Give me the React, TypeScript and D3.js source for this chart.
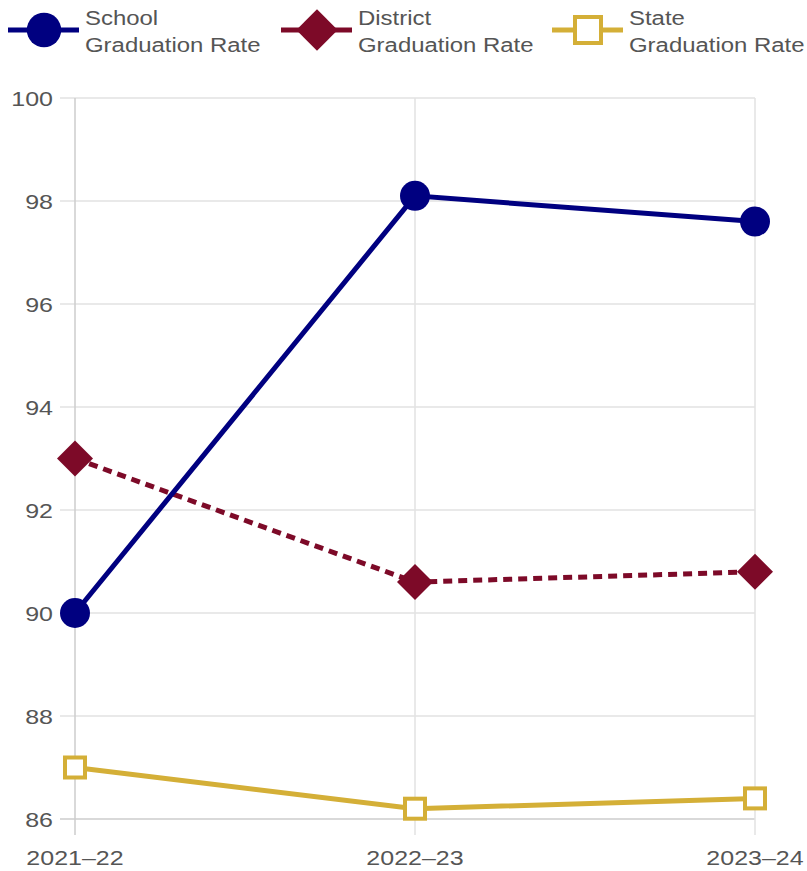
import React, { useRef, useEffect } from 'react';
import * as d3 from 'd3';

const years = ['2021–22', '2022–23', '2023–24'];
const schoolRate = [90, 98.1, 97.6];
const districtRate = [93, 90.6, 90.8];
const stateRate = [87, 86.2, 86.4];
const yTicks = [86, 88, 90, 92, 94, 96, 98, 100];

const W = 807;
const H = 871;
// the reference text is a bit wider than it is tall
const SX = 1.19;
const LEG_SX = 1.14;

const App = () => {
  const svgRef = useRef<SVGSVGElement>(null);

  useEffect(() => {
    const svg = d3.select(svgRef.current);
    svg.selectAll('*').remove();
    const font = '"Liberation Sans", Arial, sans-serif';

    // Set up scales
    const x = d3.scalePoint<string>().domain(years).range([75, 755]);
    const y = d3.scaleLinear().domain([86, 100]).range([819, 98]);

    // Grid
    const grid = svg.append('g');
    grid.selectAll('.hgrid')
      .data(yTicks)
      .enter()
      .append('line')
      .attr('x1', 60)
      .attr('x2', 755)
      .attr('y1', d => y(d))
      .attr('y2', d => y(d))
      .attr('stroke', d => (d === 86 ? '#ccc' : '#e2e2e2'))
      .attr('stroke-width', 1.5);

    grid.selectAll('.vgrid')
      .data(years)
      .enter()
      .append('line')
      .attr('x1', d => x(d)!)
      .attr('x2', d => x(d)!)
      .attr('y1', y(100))
      .attr('y2', 835)
      .attr('stroke', (d, i) => (i === 0 ? '#ccc' : '#e2e2e2'))
      .attr('stroke-width', 1.5);

    // Axis labels
    svg.selectAll('.ylab')
      .data(yTicks)
      .enter()
      .append('text')
      .attr('transform', d => `translate(53,${y(d)}) scale(${SX},1)`)
      .attr('dy', '0.36em')
      .attr('text-anchor', 'end')
      .attr('font-family', font)
      .attr('font-size', 21)
      .attr('fill', '#555')
      .text(d => d);

    svg.selectAll('.xlab')
      .data(years)
      .enter()
      .append('text')
      .attr('transform', d => `translate(${x(d)},865) scale(${SX},1)`)
      .attr('text-anchor', 'middle')
      .attr('font-family', font)
      .attr('font-size', 21)
      .attr('fill', '#555')
      .text(d => d);

    const series = [
      { name: 'School', values: schoolRate, color: '#000080', dash: null, marker: 'circle' },
      { name: 'District', values: districtRate, color: '#7d0a28', dash: '9,6', marker: 'diamond' },
      { name: 'State', values: stateRate, color: '#d4af37', dash: null, marker: 'square' },
    ];

    const drawMarker = (g: any, kind: string, cx: number, cy: number, color: string, scale = 1) => {
      if (kind === 'circle') {
        g.append('circle').attr('cx', cx).attr('cy', cy).attr('r', 15 * scale).attr('fill', color);
      } else if (kind === 'diamond') {
        const s = 18 * scale;
        g.append('path')
          .attr('d', `M${cx},${cy - s}L${cx + s},${cy}L${cx},${cy + s}L${cx - s},${cy}Z`)
          .attr('fill', color);
      } else {
        const s = 10 * scale;
        g.append('rect')
          .attr('x', cx - s).attr('y', cy - s)
          .attr('width', 2 * s).attr('height', 2 * s)
          .attr('fill', '#fff')
          .attr('stroke', color)
          .attr('stroke-width', 4);
      }
    };

    const line = d3.line<number>()
      .x((d, i) => x(years[i])!)
      .y(d => y(d));

    // draw state first, then district, then school
    [series[2], series[1], series[0]].forEach(s => {
      const g = svg.append('g');
      g.append('path')
        .datum(s.values)
        .attr('d', line)
        .attr('fill', 'none')
        .attr('stroke', s.color)
        .attr('stroke-width', 5)
        .attr('stroke-dasharray', s.dash);
      s.values.forEach((v, i) => drawMarker(g, s.marker, x(years[i])!, y(v), s.color));
    });

    // Legend
    const legendX = [8, 281, 552];
    series.forEach((s, i) => {
      const g = svg.append('g').attr('transform', `translate(${legendX[i]},30)`);
      g.append('line')
        .attr('x1', 0).attr('x2', 71)
        .attr('y1', 0).attr('y2', 0)
        .attr('stroke', s.color)
        .attr('stroke-width', 5);
      drawMarker(g, s.marker, 36, 0, s.color, s.marker === 'square' ? 1.3 : 1.15);
      const t = g.append('text')
        .attr('transform', `translate(77,0) scale(${LEG_SX},1)`)
        .attr('font-family', font)
        .attr('font-size', 21)
        .attr('fill', '#555');
      t.append('tspan').attr('x', 0).attr('y', -5).text(s.name);
      t.append('tspan').attr('x', 0).attr('y', 22).text('Graduation Rate');
    });
  }, []);

  return (
    <svg
      ref={svgRef}
      width={W}
      height={H}
      style={{ position: 'absolute', left: 0, top: 0, background: '#fff' }}
    ></svg>
  );
};

export default App;
